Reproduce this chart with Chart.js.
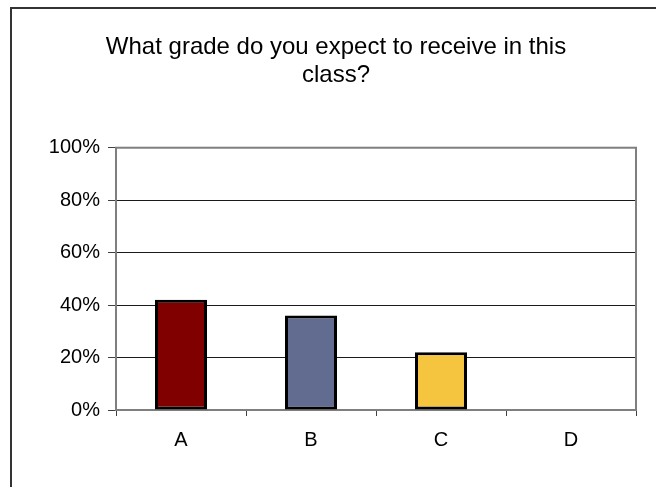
<!DOCTYPE html>
<html>
<head>
<meta charset="utf-8">
<title>Expected grade</title>
<script src="https://cdn.jsdelivr.net/npm/chart.js@4.4.1/dist/chart.umd.min.js"></script>
<style>
    html, body { margin: 0; padding: 0; background: #fff; overflow: hidden; }
    #wrap { position: relative; width: 656px; height: 487px; }
    #chart { position: absolute; left: 0; top: 0; }
    #frame {
        position: absolute; left: 10px; top: 7px;
        width: 700px; height: 520px;
        border: 2px solid #333; pointer-events: none;
    }
</style>
</head>
<body>
<div id="wrap">
    <canvas id="chart" width="656" height="487"></canvas>
    <div id="frame"></div>
</div>
<script>
// Chart data
const titleLines = ['What grade do you expect to receive in this', 'class?'];
const grades = ['A', 'B', 'C', 'D'];
const percentages = [42, 36, 22, 0];
const barColors = ['#800000', '#626C91', '#F5C540', '#FFFFFF'];
const yTicks = [0, 20, 40, 60, 80, 100];

// gray border round the plot area, drawn under the bars
const plotFrame = {
    id: 'plotFrame',
    beforeDatasetsDraw(chart) {
        const { ctx, chartArea } = chart;
        ctx.save();
        ctx.strokeStyle = '#7f7f7f';
        ctx.lineWidth = 2;
        ctx.strokeRect(chartArea.left, chartArea.top,
            chartArea.right - chartArea.left, chartArea.bottom - chartArea.top);
        ctx.restore();
    }
};

const fontFamily = '"Liberation Sans", Arial, sans-serif';

new Chart(document.getElementById('chart'), {
    type: 'bar',
    data: {
        labels: grades,
        datasets: [{
            data: percentages,
            backgroundColor: barColors,
            borderColor: '#000',
            borderWidth: 3,
            borderSkipped: false,
            categoryPercentage: 1,
            barPercentage: 0.4
        }]
    },
    options: {
        responsive: false,
        animation: false,
        layout: { padding: { left: 36, right: 20, top: 0, bottom: 0 } },
        plugins: {
            legend: { display: false },
            tooltip: { enabled: false },
            title: {
                display: true,
                text: titleLines,
                color: '#000',
                font: { family: fontFamily, size: 24, weight: 'normal', lineHeight: 1.14 },
                padding: { top: 34, bottom: 59 }
            }
        },
        scales: {
            x: {
                offset: true,
                border: { display: false },
                grid: {
                    offset: true,
                    drawOnChartArea: false,
                    drawTicks: true,
                    tickLength: 6,
                    tickColor: '#404040',
                    lineWidth: 1
                },
                ticks: {
                    color: '#000',
                    padding: 12,
                    font: { family: fontFamily, size: 20 }
                },
                afterFit(scale) { scale.height = 77; }
            },
            y: {
                min: 0,
                max: 100,
                border: { display: false },
                afterBuildTicks(scale) {
                    scale.ticks = yTicks.map(v => ({ value: v }));
                },
                grid: {
                    color: '#1a1a1a',
                    lineWidth: 1,
                    tickLength: 8,
                    tickColor: '#404040'
                },
                ticks: {
                    color: '#000',
                    padding: 8,
                    font: { family: fontFamily, size: 20 },
                    callback: (v) => v + '%'
                },
                afterFit(scale) { scale.width = 80; }
            }
        }
    },
    plugins: [plotFrame]
});
</script>
</body>
</html>
